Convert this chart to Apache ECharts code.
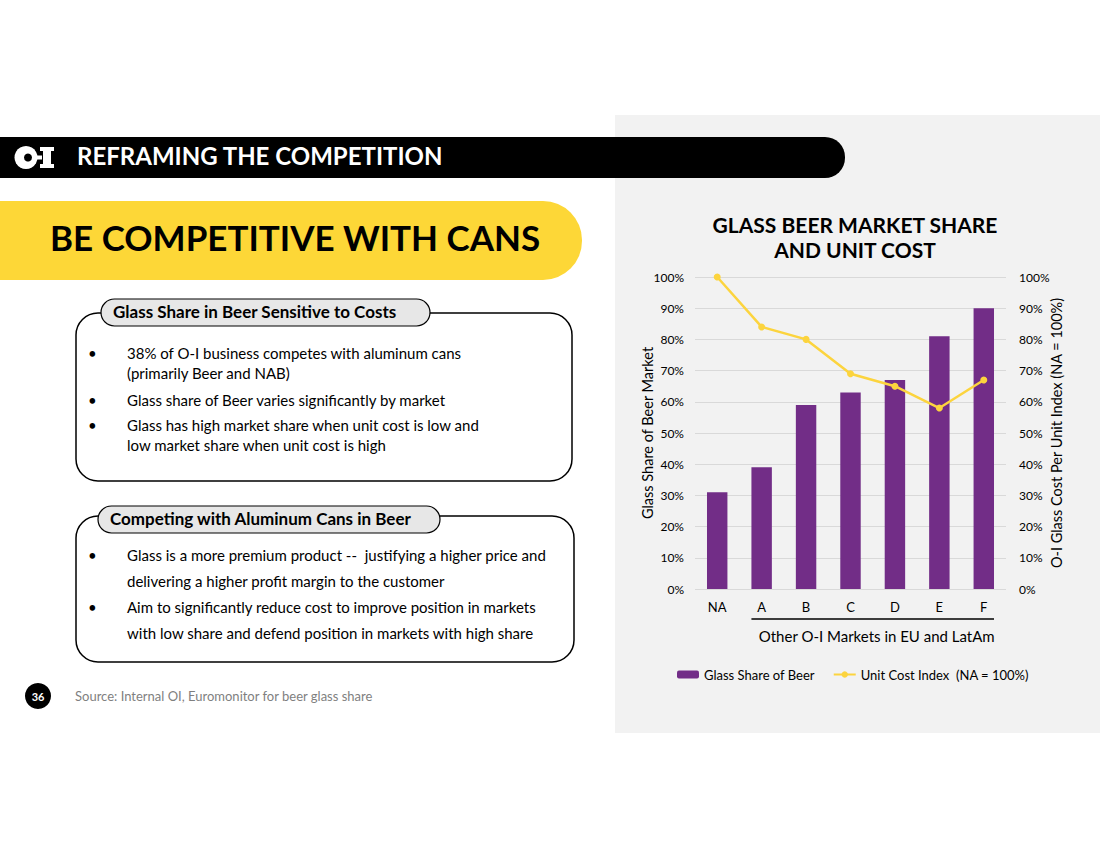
<!DOCTYPE html>
<html>
<head>
<meta charset="utf-8">
<script src="https://cdn.jsdelivr.net/npm/echarts@6/dist/echarts.min.js"></script>
<style>
html,body{margin:0;padding:0;background:#fff;}
#chart{width:1100px;height:849px;}
</style>
</head>
<body>
<div id="chart"></div>
<script>
// ---- data ----
const categories = ['NA', 'A', 'B', 'C', 'D', 'E', 'F'];
const glassShare = [31, 39, 59, 63, 67, 81, 90];
const unitCostIndex = [100, 84, 80, 69, 65, 58, 67];
const bracketFrom = 'A';
const bracketTo = 'F';

const seriesNames = ['Glass Share of Beer', 'Unit Cost Index  (NA = 100%)'];
const chartTitle = 'GLASS BEER MARKET SHARE\nAND UNIT COST';
const leftAxisName = 'Glass Share of Beer Market';
const rightAxisName = 'O-I Glass Cost Per Unit Index (NA = 100%)';
const bracketLabel = 'Other O-I Markets in EU and LatAm';

const headerText = 'REFRAMING THE COMPETITION';
const bannerText = 'BE COMPETITIVE WITH CANS';
const box1Title = 'Glass Share in Beer Sensitive to Costs';
const box1Lines = [
  ['•', '38% of O-I business competes with aluminum cans'],
  ['', '(primarily Beer and NAB)'],
  ['•', 'Glass share of Beer varies significantly by market'],
  ['•', 'Glass has high market share when unit cost is low and'],
  ['', 'low market share when unit cost is high']
];
const box2Title = 'Competing with Aluminum Cans in Beer';
const box2Lines = [
  ['•', 'Glass is a more premium product --  justifying a higher price and'],
  ['', 'delivering a higher profit margin to the customer'],
  ['•', 'Aim to significantly reduce cost to improve position in markets'],
  ['', 'with low share and defend position in markets with high share']
];
const pageNumber = '36';
const sourceText = 'Source: Internal OI, Euromonitor for beer glass share';

const FONT = 'Lato, "Noto Sans", sans-serif';
const PURPLE = '#722D87';
const YELLOW = '#FCD43E';

const chart = echarts.init(document.getElementById('chart'), null, {renderer: 'svg'});

function bulletTexts(prefix, lines, ys) {
  const out = [];
  lines.forEach((l, i) => {
    if (l[0]) out.push({type: 'text', id: prefix + 'b' + i, left: 88, top: ys[i] - 10,
      style: {text: l[0], font: '15px ' + FONT, fill: '#000'}});
    out.push({type: 'text', id: prefix + 't' + i, left: 127, top: ys[i] - 10,
      style: {text: l[1], font: '15px ' + FONT, fill: '#000'}});
  });
  return out;
}

const graphics = [
  // grey panel behind chart
  {type: 'rect', id: 'panel', z: -10, shape: {x: 615, y: 115, width: 485, height: 618}, style: {fill: '#F2F2F2'}},
  // header bar
  {type: 'rect', id: 'hdr', z: 5, shape: {x: -30, y: 137, width: 875, height: 41, r: [0, 20, 20, 0]}, style: {fill: '#000'}},
  {type: 'circle', id: 'logoO', z: 6, shape: {cx: 26, cy: 157.5, r: 11.5}, style: {fill: '#fff'}},
  {type: 'circle', id: 'logoOd', z: 7, shape: {cx: 28, cy: 157.5, r: 4}, style: {fill: '#000'}},
  {type: 'rect', id: 'logoDash', z: 6, shape: {x: 36, y: 155.5, width: 6, height: 4}, style: {fill: '#fff'}},
  {type: 'rect', id: 'logoI', z: 6, shape: {x: 43, y: 147, width: 8, height: 21}, style: {fill: '#fff'}},
  {type: 'rect', id: 'logoIt', z: 6, shape: {x: 40, y: 147, width: 14, height: 4}, style: {fill: '#fff'}},
  {type: 'rect', id: 'logoIb', z: 6, shape: {x: 40, y: 164, width: 14, height: 4}, style: {fill: '#fff'}},
  {type: 'text', id: 'hdrT', z: 6, left: 77, top: 143, style: {text: headerText, font: 'bold 24px ' + FONT, fill: '#fff'}},
  // yellow banner
  {type: 'rect', id: 'banner', shape: {x: -40, y: 201, width: 622, height: 79, r: [0, 39, 39, 0]}, style: {fill: '#FDD737'}},
  {type: 'text', id: 'bannerT', left: 50, top: 219, style: {text: bannerText, font: 'bold 35px ' + FONT, fill: '#000'}},
  // box 1
  {type: 'rect', id: 'box1', shape: {x: 76, y: 313, width: 496, height: 168, r: 22}, style: {fill: '#fff', stroke: '#000', lineWidth: 1.5}},
  {type: 'rect', id: 'tab1', shape: {x: 101, y: 299, width: 329, height: 27, r: 13.5}, style: {fill: '#E7E7E7', stroke: '#000', lineWidth: 1.2}},
  {type: 'text', id: 'tab1T', left: 113, top: 303, style: {text: box1Title, font: 'bold 17px ' + FONT, fill: '#000'}},
  // box 2
  {type: 'rect', id: 'box2', shape: {x: 76, y: 516, width: 498, height: 146, r: 22}, style: {fill: '#fff', stroke: '#000', lineWidth: 1.5}},
  {type: 'rect', id: 'tab2', shape: {x: 98, y: 506, width: 342, height: 27, r: 13.5}, style: {fill: '#E7E7E7', stroke: '#000', lineWidth: 1.2}},
  {type: 'text', id: 'tab2T', left: 110, top: 510, style: {text: box2Title, font: 'bold 17px ' + FONT, fill: '#000'}},
  // footer
  {type: 'circle', id: 'pg', shape: {cx: 38, cy: 696, r: 13}, style: {fill: '#000'}},
  {type: 'text', id: 'pgT', x: 38, y: 696, style: {text: pageNumber, font: 'bold 11px ' + FONT, fill: '#fff', align: 'center', verticalAlign: 'middle'}},
  {type: 'text', id: 'src', left: 75, top: 689, style: {text: sourceText, font: '13px ' + FONT, fill: '#7F7F7F'}}
].concat(bulletTexts('a', box1Lines, [355, 375, 402, 427, 447]))
 .concat(bulletTexts('c', box2Lines, [557, 583, 609, 635]));

const option = {
  animation: false,
  backgroundColor: 'transparent',
  textStyle: {fontFamily: FONT},
  title: {
    text: chartTitle,
    left: 850, top: 207, textAlign: 'center',
    textStyle: {fontFamily: FONT, fontWeight: 'bold', fontSize: 21, lineHeight: 25, color: '#000'}
  },
  legend: {
    left: 677, top: 668, padding: 0,
    itemWidth: 22, itemHeight: 8, itemGap: 18,
    textStyle: {fontFamily: FONT, fontSize: 13, color: '#000'},
    data: seriesNames
  },
  grid: {left: 695, right: 94, top: 277, bottom: 260, containLabel: false},
  xAxis: {
    type: 'category',
    data: categories,
    axisLine: {show: false},
    axisTick: {show: false},
    axisLabel: {fontFamily: FONT, fontSize: 13, color: '#000', margin: 11}
  },
  yAxis: [
    {
      type: 'value', min: 0, max: 100, interval: 10,
      name: leftAxisName, nameLocation: 'middle', nameRotate: 90, nameGap: 40, nameMoveOverlap: false,
      nameTextStyle: {fontFamily: FONT, fontSize: 14.5, color: '#000'},
      axisLabel: {formatter: '{value}%', fontFamily: FONT, fontSize: 12, color: '#000', margin: 11},
      axisLine: {show: false}, axisTick: {show: false},
      splitLine: {lineStyle: {color: '#D9D9D9', width: 1}}
    },
    {
      type: 'value', min: 0, max: 100, interval: 10,
      name: rightAxisName, nameLocation: 'middle', nameRotate: 90, nameGap: 43, nameMoveOverlap: false,
      nameTextStyle: {fontFamily: FONT, fontSize: 14.5, color: '#000'},
      axisLabel: {formatter: '{value}%', fontFamily: FONT, fontSize: 12, color: '#000', margin: 13},
      axisLine: {show: false}, axisTick: {show: false},
      splitLine: {show: false}
    }
  ],
  series: [
    {
      name: seriesNames[0], type: 'bar', data: glassShare, yAxisIndex: 0,
      barWidth: '46%', itemStyle: {color: PURPLE}
    },
    {
      name: seriesNames[1], type: 'line', data: unitCostIndex, yAxisIndex: 1,
      symbol: 'circle', symbolSize: 7,
      lineStyle: {color: YELLOW, width: 2.5}, itemStyle: {color: YELLOW}, z: 3
    }
  ],
  graphic: graphics
};
chart.setOption(option);

// bracket under the "other markets" categories, placed from the axis scale
const pA = chart.convertToPixel({xAxisIndex: 0}, bracketFrom);
const pF = chart.convertToPixel({xAxisIndex: 0}, bracketTo);
const p0 = chart.convertToPixel({xAxisIndex: 0}, categories[0]);
const p1 = chart.convertToPixel({xAxisIndex: 0}, categories[1]);
const halfBar = (p1 - p0) * 0.46 / 2;
const baseY = chart.convertToPixel({yAxisIndex: 0}, 0);
chart.setOption({
  graphic: [
    {type: 'line', id: 'bracket', shape: {x1: pA - halfBar, y1: baseY + 30, x2: pF + halfBar, y2: baseY + 30},
      style: {stroke: '#000', lineWidth: 1.5}},
    {type: 'text', id: 'bracketT', x: (pA + pF) / 2 + 4, y: baseY + 47,
      style: {text: bracketLabel, font: '15px ' + FONT, fill: '#000', align: 'center', verticalAlign: 'middle'}}
  ]
});
</script>
</body>
</html>
